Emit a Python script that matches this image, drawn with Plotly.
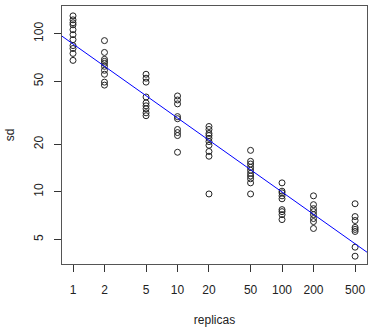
import numpy as np
import plotly.graph_objects as go

# Standard deviation observed at each replica count
replicas_levels = [1, 2, 5, 10, 20, 50, 100, 200, 500]
sd_1 = [129.6, 122.3, 117.2, 113.8, 105.9, 98.6, 91.7, 84.1, 80.6, 75.0, 67.8]
sd_2 = [90.4, 76.1, 68.8, 66.8, 64.9, 62.2, 58.7, 55.4, 49.4, 47.3]
sd_5 = [55.4, 52.3, 49.4, 39.8, 36.5, 35.0, 33.5, 31.6, 30.3]
sd_10 = [40.4, 38.1, 36.0, 29.9, 29.0, 24.8, 23.7, 22.7, 17.8]
sd_20 = [25.9, 24.8, 23.4, 22.7, 21.8, 20.8, 19.7, 18.0, 16.8, 9.7]
sd_50 = [18.3, 15.6, 15.0, 14.3, 13.7, 13.1, 12.6, 12.1, 11.4, 9.7]
sd_100 = [11.4, 10.1, 9.86, 9.44, 9.04, 7.72, 7.5, 7.18, 6.68]
sd_200 = [9.44, 8.30, 7.83, 7.50, 7.18, 6.78, 6.49, 5.87]
sd_500 = [8.41, 6.98, 6.59, 5.96, 5.79, 5.62, 4.47, 3.92]

# log10(sd) = intercept + slope * log10(replicas)
fit_intercept = 1.935
fit_slope = -0.468

x_ticks = [1, 2, 5, 10, 20, 50, 100, 200, 500]
y_ticks = [5, 10, 20, 50, 100]

groups = [sd_1, sd_2, sd_5, sd_10, sd_20, sd_50, sd_100, sd_200, sd_500]
xs, ys = [], []
for level, vals in zip(replicas_levels, groups):
    xs += [level] * len(vals)
    ys += vals

x_range_log = [-0.1053, 2.813]
y_range_log = [0.544, 2.175]

fig = go.Figure()
fig.add_trace(go.Scatter(
    x=xs, y=ys, mode="markers",
    marker=dict(symbol="circle-open", size=6, color="#222222", line=dict(width=1)),
    showlegend=False, hoverinfo="x+y",
))

line_logx = np.array(x_range_log)
line_x = 10 ** line_logx
line_y = 10 ** (fit_intercept + fit_slope * line_logx)
fig.add_trace(go.Scatter(
    x=line_x, y=line_y, mode="lines",
    line=dict(color="#0000ff", width=1),
    showlegend=False, hoverinfo="skip",
))

axis_common = dict(
    type="log", showgrid=False, zeroline=False,
    showline=True, linecolor="#555555", linewidth=1, mirror=True,
    ticks="outside", ticklen=7, tickcolor="#333333", tickwidth=1,
    tickfont=dict(family="Liberation Sans, Arial, sans-serif", size=12, color="#222222"),
)

fig.update_layout(
    width=373, height=330,
    margin=dict(l=62, r=6, t=5, b=64),
    paper_bgcolor="white", plot_bgcolor="white",
    font=dict(family="Liberation Sans, Arial, sans-serif", size=12, color="#222222"),
    xaxis=dict(
        axis_common, range=x_range_log,
        tickvals=x_ticks, ticktext=[str(t) for t in x_ticks],
        ticklabelstandoff=8,
        title=dict(text="replicas", standoff=19,
                   font=dict(family="Liberation Sans, Arial, sans-serif", size=12)),
    ),
    yaxis=dict(
        axis_common, range=y_range_log,
        tickvals=y_ticks, ticktext=[str(t) for t in y_ticks],
        tickangle=-90, ticklabelstandoff=6,
        title=dict(text="sd", standoff=15,
                   font=dict(family="Liberation Sans, Arial, sans-serif", size=12)),
    ),
)

fig.write_html("out.html")
